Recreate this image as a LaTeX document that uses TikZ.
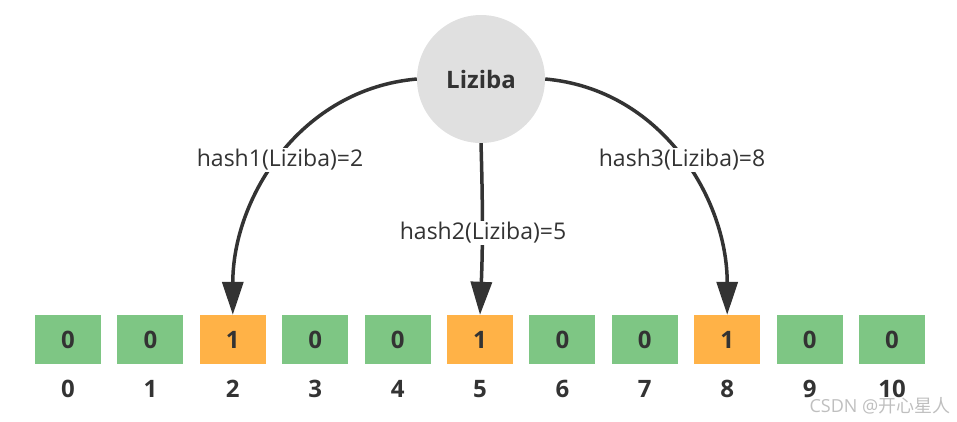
\documentclass[tikz,border=0pt]{standalone}
\usepackage{fontspec}
\setmainfont{Open Sans}
\newfontfamily\cjkfont{Noto Sans CJK SC}
\usetikzlibrary{arrows.meta}
\definecolor{bitgreen}{RGB}{126,198,132}
\definecolor{bitorange}{RGB}{255,178,71}
\definecolor{inkgray}{RGB}{51,51,51}
\definecolor{ballgray}{RGB}{224,224,224}
\begin{document}
\begin{tikzpicture}[x = 1pt, y = -1pt,
        zero/.style  = {fill=bitgreen, minimum width=66pt, minimum height=49pt, inner sep=0pt,
                        font=\fontsize{24}{24}\selectfont\bfseries, text=inkgray},
        one/.style   = {zero, fill=bitorange},
        index/.style = {font=\fontsize{24}{24}\selectfont\bfseries, text=inkgray},
        hash/.style  = {fill=white, inner sep=1pt, font=\fontsize{23}{23}\selectfont, text=inkgray},
        link/.style  = {line width=3.5pt, draw=inkgray, -{Triangle[length=33pt,width=21pt]}}]
        \useasboundingbox (0,0) rectangle (957,421);
        \node[circle, fill=ballgray, minimum size=128pt, inner sep=0pt,
              font=\fontsize{24}{24}\selectfont\bfseries, text=inkgray] (liz) at (481,79) {Liziba};
        % bit array
        \node[zero] (b0)  at ( 68.0,339.5) {0};
        \node[zero] (b1)  at (150.4,339.5) {0};
        \node[one]  (b2)  at (232.8,339.5) {1};
        \node[zero] (b3)  at (315.2,339.5) {0};
        \node[zero] (b4)  at (397.6,339.5) {0};
        \node[one]  (b5)  at (480.0,339.5) {1};
        \node[zero] (b6)  at (562.4,339.5) {0};
        \node[zero] (b7)  at (644.8,339.5) {0};
        \node[one]  (b8)  at (727.2,339.5) {1};
        \node[zero] (b9)  at (809.6,339.5) {0};
        \node[zero] (b10) at (892.0,339.5) {0};
        % positions
        \node[index] (i0)  at ( 68.0,389) {0};
        \node[index] (i1)  at (150.4,389) {1};
        \node[index] (i2)  at (232.8,389) {2};
        \node[index] (i3)  at (315.2,389) {3};
        \node[index] (i4)  at (397.6,389) {4};
        \node[index] (i5)  at (480.0,389) {5};
        \node[index] (i6)  at (562.4,389) {6};
        \node[index] (i7)  at (644.8,389) {7};
        \node[index] (i8)  at (727.2,389) {8};
        \node[index] (i9)  at (809.6,389) {9};
        \node[index] (i10) at (892.0,389) {10};
        % hash links
        \draw[link] (liz.west)  to[out=185, in=90] (b2.north);
        \draw[link] (liz.south) to[bend left=2] (b5.north);
        \draw[link] (liz.east)  to[out=-5, in=90] (b8.north);
        \node[hash] (h1) at (280,160) {hash1(Liziba)=2};
        \node[hash] (h2) at (483,233) {hash2(Liziba)=5};
        \node[hash] (h3) at (682,160) {hash3(Liziba)=8};
        \node[text=black!25, font=\fontsize{18}{18}\selectfont] (mark) at (880,406) {CSDN @{\cjkfont 开心星人}};
      \end{tikzpicture}
\end{document}
